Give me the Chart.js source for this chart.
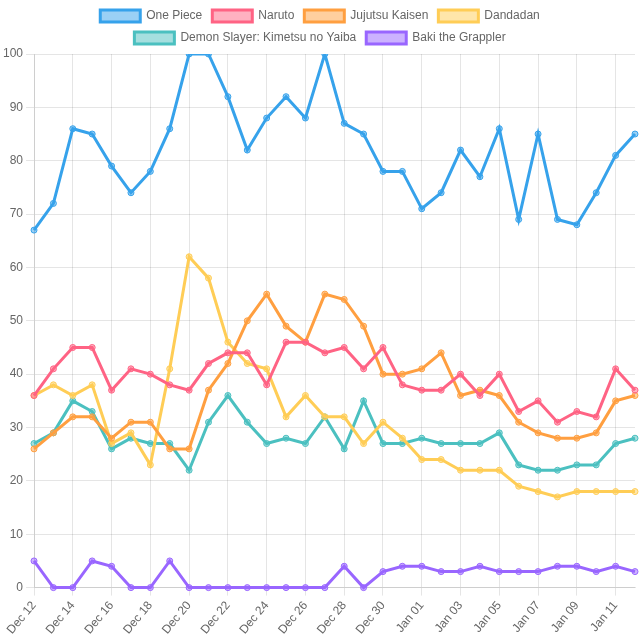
<!DOCTYPE html>
<html>
<head>
    <title>Anime Trends</title>
    <script src="https://cdn.jsdelivr.net/npm/chart.js"></script>
    <style>
        body { margin:0; background:#fff; }
        #trendChart { display:block; }
    </style>
</head>
<body>
<canvas id="trendChart" width="640" height="640"></canvas>
<script>
const labels = ['Dec 12','Dec 13','Dec 14','Dec 15','Dec 16','Dec 17','Dec 18','Dec 19','Dec 20','Dec 21',
  'Dec 22','Dec 23','Dec 24','Dec 25','Dec 26','Dec 27','Dec 28','Dec 29','Dec 30','Dec 31',
  'Jan 01','Jan 02','Jan 03','Jan 04','Jan 05','Jan 06','Jan 07','Jan 08','Jan 09','Jan 10','Jan 11','Jan 12'];
const onePiece = [67,72,86,85,79,74,78,86,100,100,92,82,88,92,88,100,87,85,78,78,71,74,82,77,86,69,85,69,68,74,81,85];
const naruto = [36,41,45,45,37,41,40,38,37,42,44,44,38,46,46,44,45,41,45,38,37,37,40,36,40,33,35,31,33,32,41,37];
const jujutsu = [26,29,32,32,28,31,31,26,26,37,42,50,55,49,46,55,54,49,40,40,41,44,36,37,36,31,29,28,28,29,35,36];
const dandadan = [36,38,36,38,27,29,23,41,62,58,46,42,41,32,36,32,32,27,31,28,24,24,22,22,22,19,18,17,18,18,18,18];
const demonSlayer = [27,29,35,33,26,28,27,27,22,31,36,31,27,28,27,32,26,35,27,27,28,27,27,27,29,23,22,22,23,23,27,28];
const baki = [5,0,0,5,4,0,0,5,0,0,0,0,0,0,0,0,4,0,3,4,4,3,3,4,3,3,3,4,4,3,4,3];

function series(label, data, rgb){
  return {label:label,data:data,borderColor:`rgb(${rgb})`,backgroundColor:`rgba(${rgb},0.5)`,
    borderWidth:3,pointRadius:3,pointBorderWidth:1,tension:0,fill:false};
}

new Chart(document.getElementById('trendChart').getContext('2d'),{
  type:'line',
  data:{labels:labels,datasets:[
    series('One Piece',onePiece,'54,162,235'),
    series('Naruto',naruto,'255,99,132'),
    series('Jujutsu Kaisen',jujutsu,'255,159,64'),
    series('Dandadan',dandadan,'255,205,86'),
    series('Demon Slayer: Kimetsu no Yaiba',demonSlayer,'75,192,192'),
    series('Baki the Grappler',baki,'153,102,255')
  ]},
  options:{
    responsive:false,
    animation:false,
    plugins:{legend:{position:'top'}},
    scales:{y:{beginAtZero:true,max:100}}
  }
});
</script>
</body>
</html>
